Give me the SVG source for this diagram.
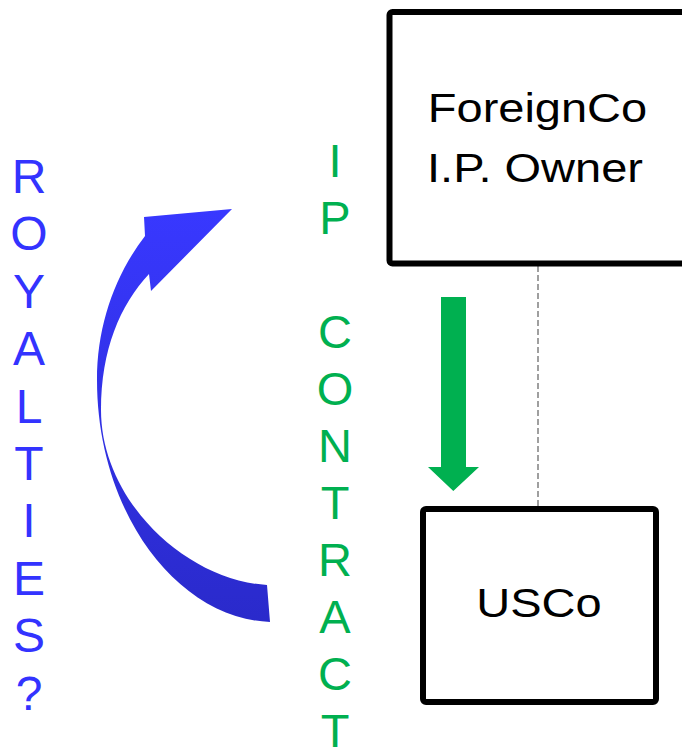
<svg xmlns="http://www.w3.org/2000/svg" width="682" height="752" viewBox="0 0 682 752">
  <style>
    .box { fill: #ffffff; stroke: #000000; stroke-width: 6; }
    .lbl { font-family: "Liberation Sans", Arial, sans-serif; font-size: 40px; fill: #000000; text-anchor: middle; }
    .vblue { font-family: "Liberation Sans", Arial, sans-serif; font-size: 48px; fill: #3333FF; text-anchor: middle; }
    .vgreen { font-family: "Liberation Sans", Arial, sans-serif; font-size: 47px; fill: #00B050; text-anchor: middle; }
  </style>
  <defs>
    <linearGradient id="blueGrad" gradientUnits="userSpaceOnUse" x1="0" y1="209" x2="0" y2="622">
      <stop offset="0" stop-color="#3838FF"/>
      <stop offset="1" stop-color="#2A2ACB"/>
    </linearGradient>
  </defs>
  <rect width="682" height="752" fill="#ffffff"/>

  <g id="connectors">
    <line x1="538" y1="266" x2="538" y2="506" stroke="#808080" stroke-width="1.5" stroke-dasharray="6,3"/>
    <path id="ip-arrow" d="M441,297 L466,297 L466,467 L479,467 L453.3,491 L428,467 L441,467 Z" fill="#00B050"/>
    <path id="royalty-arrow" d="M149,274 L151,291 L232,209 L144,217 L145,236 C115,275 97,325 97,380 C97,510 175,618 270,622 L267,585 C185,580 101,500 101,410 C101,350 120,305 149,274 Z" fill="url(#blueGrad)"/>
  </g>

  <g id="foreignco">
    <rect class="box" x="389.5" y="12" width="400" height="251.5" rx="3"/>
    <text class="lbl" transform="translate(537.5,122) scale(1.175,1)" x="0" y="0">ForeignCo</text>
    <text class="lbl" transform="translate(535,182) scale(1.175,1)" x="0" y="0">I.P. Owner</text>
  </g>

  <g id="usco">
    <rect class="box" x="423" y="509" width="233" height="193" rx="3"/>
    <text class="lbl" transform="translate(539,617) scale(1.175,1)" x="0" y="0">USCo</text>
  </g>

  <g id="royalties-label">
    <text class="vblue" x="29" y="193">R</text>
    <text class="vblue" x="29" y="250.4">O</text>
    <text class="vblue" x="29" y="307.8">Y</text>
    <text class="vblue" x="29" y="365.2">A</text>
    <text class="vblue" x="29" y="422.6">L</text>
    <text class="vblue" x="29" y="480">T</text>
    <text class="vblue" x="29" y="537.4">I</text>
    <text class="vblue" x="29" y="594.8">E</text>
    <text class="vblue" x="29" y="652.2">S</text>
    <text class="vblue" x="29" y="709.6">?</text>
  </g>

  <g id="ip-contract-label">
    <text class="vgreen" x="335" y="177">I</text>
    <text class="vgreen" x="335" y="234">P</text>
    <text class="vgreen" x="335" y="348">C</text>
    <text class="vgreen" x="335" y="405">O</text>
    <text class="vgreen" x="335" y="462">N</text>
    <text class="vgreen" x="335" y="519">T</text>
    <text class="vgreen" x="335" y="576">R</text>
    <text class="vgreen" x="335" y="633">A</text>
    <text class="vgreen" x="335" y="690">C</text>
    <text class="vgreen" x="335" y="747">T</text>
  </g>
</svg>
